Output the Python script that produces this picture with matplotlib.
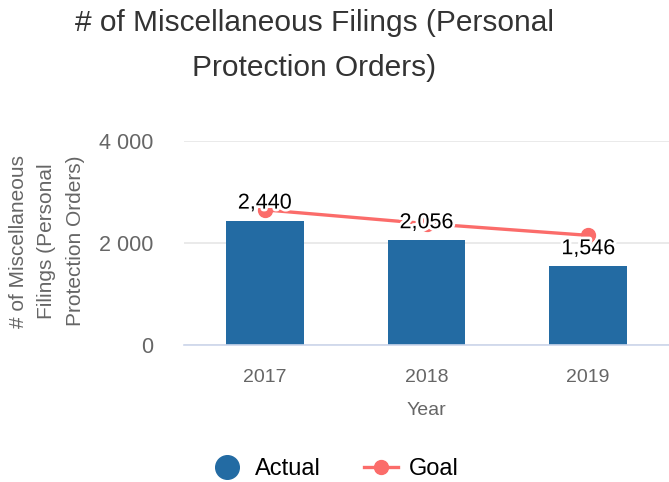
import matplotlib
matplotlib.use("Agg")
import matplotlib.pyplot as plt
import matplotlib.patheffects as pe
from matplotlib.lines import Line2D

years = ["2017", "2018", "2019"]
actual = [2440, 2056, 1546]
goal = [2650, 2380, 2150]
yticks = [0, 2000, 4000]
ytick_labels = ["0", "2 000", "4 000"]

plt.rcParams['font.family'] = ['Liberation Sans', 'DejaVu Sans']

fig = plt.figure(figsize=(6.69, 4.82), dpi=100)
ax = fig.add_axes([184/669, 1-345/482, (669-184)/669, (345-141)/482])

x = list(range(len(years)))
ax.bar(x, actual, width=0.48, color="#236ba3", zorder=2)
ax.plot(x, goal, color="#fb6c6a", lw=2.4, marker="o", ms=10, zorder=3)

for xi, v in zip(x, actual):
    ax.annotate(f"{v:,}", (xi, v), xytext=(0, 5), textcoords="offset points",
                ha="center", va="bottom", fontsize=15.5, color="black", zorder=5,
                path_effects=[pe.withStroke(linewidth=4, foreground="white")])

ax.set_xlim(-0.5, 2.5)
ax.set_ylim(0, 4000)
ax.set_xticks(x)
ax.set_xticklabels(years)
ax.set_yticks(yticks)
ax.set_yticklabels(ytick_labels)
ax.tick_params(axis="both", length=0, labelsize=14, labelcolor="#666666")
ax.tick_params(axis="y", labelsize=15.5)
ax.tick_params(axis="x", pad=17)
ax.tick_params(axis="y", pad=22)
ax.grid(axis="y", color="#e6e6e6", lw=1.2, zorder=0)
for s in ["top", "right", "left"]:
    ax.spines[s].set_visible(False)
ax.spines["bottom"].set_color("#ccd6eb")
ax.spines["bottom"].set_linewidth(1.2)
ax.set_axisbelow(True)

ax.set_xlabel("Year", fontsize=14, color="#666666", labelpad=12)
fig.text(47/669, 1-241/482, "# of Miscellaneous\nFilings (Personal\nProtection Orders)",
         rotation=90, ha="center", va="center", fontsize=15, color="#666666",
         linespacing=1.65, multialignment="center")

fig.text(0.47, 1-45.5/482, "# of Miscellaneous Filings (Personal\nProtection Orders)",
         ha="center", va="center", fontsize=21.5, color="#333333", linespacing=1.73)

handles = [Line2D([], [], ls="none", marker="o", ms=17, color="#236ba3"),
           Line2D([], [], color="#fb6c6a", lw=2.4, marker="o", ms=10)]
fig.legend(handles, ["Actual", "Goal"], loc="center", bbox_to_anchor=(0.5, 1-469/482),
           ncol=2, frameon=False, fontsize=17, handlelength=1.44, columnspacing=1.85,
           handletextpad=0.45)

fig.savefig("out.png", dpi=100)
